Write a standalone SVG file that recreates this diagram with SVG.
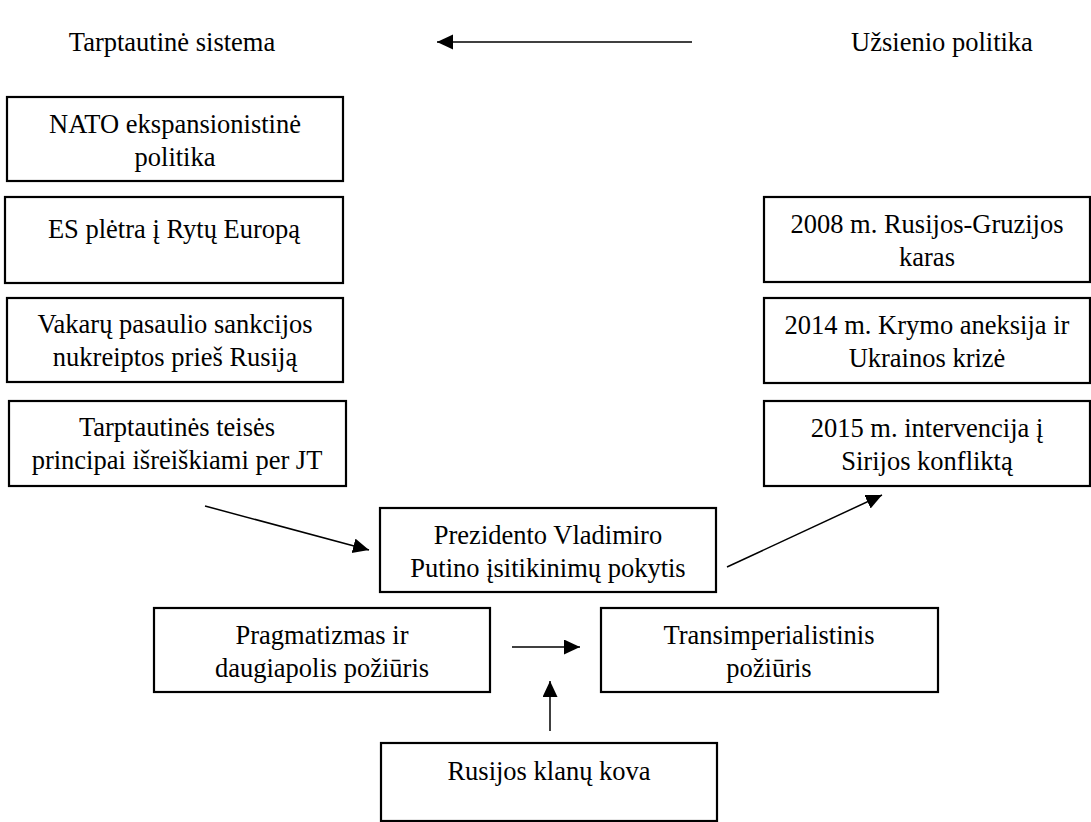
<svg xmlns="http://www.w3.org/2000/svg" width="1091" height="822" viewBox="0 0 1091 822">
<style>
  .box { fill: #fff; stroke: #000; stroke-width: 2.2; }
  .t { font-family: "Liberation Serif", "Times New Roman", serif; font-size: 26.5px; fill: #000; text-anchor: middle; }
  .c { stroke: #000; stroke-width: 1.5; fill: none; marker-end: url(#ah); }
</style>
<defs>
  <marker id="ah" markerUnits="userSpaceOnUse" markerWidth="17" markerHeight="16" refX="16" refY="7.5" orient="auto">
    <path d="M0,0 L16,7.5 L0,15 z" fill="#000"/>
  </marker>
</defs>
<rect width="1091" height="822" fill="#fff"/>
<g id="title-left"><text class="t" x="172" y="51">Tarptautinė sistema</text></g>
<g id="title-right"><text class="t" x="942" y="51">Užsienio politika</text></g>

<g id="nato"><rect class="box" x="7" y="97" width="336" height="84"/>
  <text class="t" x="175" y="133">NATO ekspansionistinė</text><text class="t" x="175" y="166">politika</text></g>
<g id="es"><rect class="box" x="5" y="197" width="338" height="86"/>
  <text class="t" x="174" y="238">ES plėtra į Rytų Europą</text></g>
<g id="vakaru"><rect class="box" x="7" y="298" width="336" height="84"/>
  <text class="t" x="175" y="333">Vakarų pasaulio sankcijos</text><text class="t" x="175" y="366">nukreiptos prieš Rusiją</text></g>
<g id="teise"><rect class="box" x="9" y="401" width="337" height="85"/>
  <text class="t" x="177" y="436">Tarptautinės teisės</text><text class="t" x="177" y="469">principai išreiškiami per JT</text></g>

<g id="gruzija"><rect class="box" x="764" y="197" width="326" height="85"/>
  <text class="t" x="927" y="233">2008 m. Rusijos-Gruzijos</text><text class="t" x="927" y="266">karas</text></g>
<g id="krymas"><rect class="box" x="764" y="298" width="326" height="85"/>
  <text class="t" x="927" y="334">2014 m. Krymo aneksija ir</text><text class="t" x="927" y="367">Ukrainos krizė</text></g>
<g id="sirija"><rect class="box" x="764" y="401" width="326" height="85"/>
  <text class="t" x="927" y="437">2015 m. intervencija į</text><text class="t" x="927" y="470">Sirijos konfliktą</text></g>

<g id="putinas"><rect class="box" x="380" y="508" width="336" height="84"/>
  <text class="t" x="548" y="544">Prezidento Vladimiro</text><text class="t" x="548" y="577">Putino įsitikinimų pokytis</text></g>
<g id="pragmatizmas"><rect class="box" x="154" y="608" width="336" height="84"/>
  <text class="t" x="322" y="644">Pragmatizmas ir</text><text class="t" x="322" y="677">daugiapolis požiūris</text></g>
<g id="transimperializmas"><rect class="box" x="601" y="608" width="337" height="84"/>
  <text class="t" x="769" y="644">Transimperialistinis</text><text class="t" x="769" y="677">požiūris</text></g>
<g id="klanai"><rect class="box" x="381" y="743" width="336" height="78"/>
  <text class="t" x="549" y="780">Rusijos klanų kova</text></g>

<g id="connectors">
  <line class="c" x1="692" y1="42" x2="437" y2="42"/>
  <line class="c" x1="205" y1="506" x2="369" y2="550"/>
  <line class="c" x1="727" y1="567" x2="882" y2="495"/>
  <line class="c" x1="512" y1="647" x2="580" y2="647"/>
  <line class="c" x1="550" y1="731" x2="550" y2="681"/>
</g>
</svg>
